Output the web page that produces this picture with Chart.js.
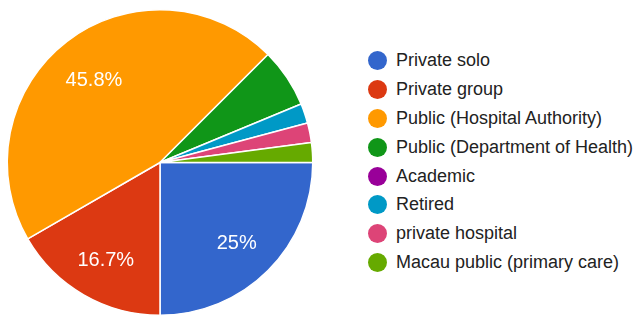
<!DOCTYPE html>
<html>
<head>
<meta charset="utf-8">
<script src="https://cdn.jsdelivr.net/npm/chart.js@4"></script>
<style>
  body { margin: 0; background: #fff; font-family: Arial, "Liberation Sans", sans-serif; }
  #wrap { position: relative; width: 636px; height: 316px; overflow: hidden; }
  #pie-box { position: absolute; left: 0; top: 0; width: 320px; height: 316px; }
  #legend { position: absolute; left: 368px; top: 46px; margin: 0; padding: 0; list-style: none; }
  #legend li { height: 28.9px; display: flex; align-items: center; font-size: 18px; color: #222; white-space: nowrap; }
  #legend .dot { width: 19px; height: 19px; border-radius: 50%; margin-right: 9px; flex: none; }
</style>
</head>
<body>
<div id="wrap">
  <div id="pie-box"><canvas id="workplaceChart"></canvas></div>
  <ul id="legend"></ul>
</div>
<script>
const categories = [
    'Private solo',
    'Private group',
    'Public (Hospital Authority)',
    'Public (Department of Health)',
    'Academic',
    'Retired',
    'private hospital',
    'Macau public (primary care)'
];
const responses = [12, 8, 22, 3, 0, 1, 1, 1];
const sliceColors = ['#3366cc', '#dc3912', '#ff9900', '#109618', '#990099', '#0099c6', '#dd4477', '#66aa00'];

const legendList = document.getElementById('legend');

// percent labels inside the bigger slices
const sliceLabels = {
    id: 'sliceLabels',
    afterDatasetsDraw(chart) {
        const ctx = chart.ctx;
        const meta = chart.getDatasetMeta(0);
        const total = responses.reduce((a, b) => a + b, 0);
        ctx.save();
        ctx.font = '20px Arial, "Liberation Sans", sans-serif';
        ctx.fillStyle = '#fff';
        ctx.textAlign = 'center';
        ctx.textBaseline = 'middle';
        meta.data.forEach((arc, i) => {
            const pct = responses[i] / total * 100;
            if (pct < 10) return;
            const mid = (arc.startAngle + arc.endAngle) / 2;
            const r = arc.outerRadius * 0.71;
            const text = (Math.round(pct * 10) / 10) + '%';
            ctx.fillText(text, arc.x + Math.cos(mid) * r, arc.y + Math.sin(mid) * r + 4);
        });
        ctx.restore();
    }
};

function buildLegend() {
    categories.forEach((name, i) => {
        const li = document.createElement('li');
        li.innerHTML = `<span class="dot" style="background:${sliceColors[i]}"></span><span>${name}</span>`;
        legendList.appendChild(li);
    });
}

function initChart() {
    const ctx = document.getElementById('workplaceChart').getContext('2d');
    new Chart(ctx, {
        type: 'pie',
        data: {
            labels: categories,
            datasets: [{
                data: responses,
                backgroundColor: sliceColors,
                borderColor: '#fff',
                borderWidth: 1.5
            }]
        },
        options: {
            responsive: true,
            maintainAspectRatio: false,
            animation: false,
            rotation: 90,
            layout: { padding: { left: 6, right: 6, top: 9, bottom: -1 } },
            plugins: {
                legend: { display: false },
                tooltip: { enabled: false }
            }
        },
        plugins: [sliceLabels]
    });
}

buildLegend();
initChart();
</script>
</body>
</html>
